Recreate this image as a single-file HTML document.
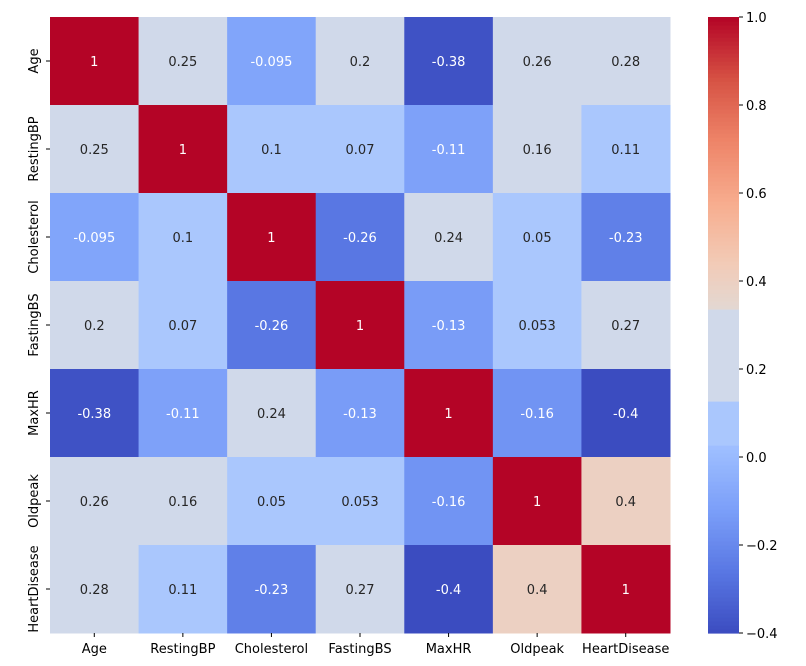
<!DOCTYPE html>
<html><head><meta charset="utf-8"><style>
body{margin:0;background:#fff;font-family:"DejaVu Sans","Liberation Sans",sans-serif}
</style></head><body>
<svg id="chart" width="806" height="662" xmlns="http://www.w3.org/2000/svg" font-family="DejaVu Sans, Liberation Sans, sans-serif" font-size="13"></svg>
<script>
const labels=["Age","RestingBP","Cholesterol","FastingBS","MaxHR","Oldpeak","HeartDisease"];
const row0=[1,0.25,-0.095,0.2,-0.38,0.26,0.28];
const row1=[0.25,1,0.1,0.07,-0.11,0.16,0.11];
const row2=[-0.095,0.1,1,-0.26,0.24,0.05,-0.23];
const row3=[0.2,0.07,-0.26,1,-0.13,0.053,0.27];
const row4=[-0.38,-0.11,0.24,-0.13,1,-0.16,-0.4];
const row5=[0.26,0.16,0.05,0.053,-0.16,1,0.4];
const row6=[0.28,0.11,-0.23,0.27,-0.4,0.4,1];
const matrix=[row0,row1,row2,row3,row4,row5,row6];
const cbTicks=[-0.4,-0.2,0.0,0.2,0.4,0.6,0.8,1.0];
const vmin=-0.4,vmax=1.0;
const X0=50,X1=670,Y0=17,Y1=633,CBX=708,CBW=31;
const stops=["#3b4cc0","#5977e3","#7b9ff9","#9ebeff","#c0d4f5","#dddcdc","#f2cbb7","#f7ac8e","#ee8468","#d65244","#b40426"].map(h=>[1,3,5].map(i=>parseInt(h.substr(i,2),16)));
function hex(h){return [1,3,5].map(i=>parseInt(h.substr(i,2),16));}
function cmap(v){
 if(v>=0.13&&v<=0.34) return hex("#d0d9ea");
 if(v>=0.03&&v<0.13) return hex("#aac7fd");
 let t=Math.max(0,Math.min(1,(v-vmin)/(vmax-vmin)))*10;let i=Math.min(9,Math.floor(t)),f=t-i;return stops[i].map((c,k)=>Math.round(c+(stops[i+1][k]-c)*f));}
function lum(c){const l=c.map(x=>{x/=255;return x<=0.03928?x/12.92:Math.pow((x+0.055)/1.055,2.4)});return 0.2126*l[0]+0.7152*l[1]+0.0722*l[2];}
const n=labels.length,cw=(X1-X0)/n,ch=(Y1-Y0)/n;
const xS=i=>X0+i*cw,yS=j=>Y0+j*ch;
const yCb=v=>Y1-(v-vmin)/(vmax-vmin)*(Y1-Y0);
const svg=document.getElementById('chart');const NS="http://www.w3.org/2000/svg";
function el(t,a,p){const e=document.createElementNS(NS,t);for(const k in a)e.setAttribute(k,a[k]);(p||svg).appendChild(e);return e;}
matrix.forEach((row,j)=>row.forEach((v,i)=>{const c=cmap(v);
const r=el('rect',{x:xS(i),y:yS(j),width:cw+0.5,height:ch+0.5,fill:`rgb(${c})`});


const t=el('text',{x:xS(i)+cw/2,y:yS(j)+ch/2+5,'text-anchor':'middle',fill:lum(c)>0.408?'#262626':'#ffffff'});
t.textContent=String(v);


}));
labels.forEach((l,i)=>{
el('line',{x1:xS(i)+cw/2,x2:xS(i)+cw/2,y1:Y1,y2:Y1+4,stroke:'#000'});
const t=el('text',{x:xS(i)+cw/2,y:Y1+20,'text-anchor':'middle',fill:'#000'});t.textContent=l;


const yc=yS(i)+ch/2;
el('line',{x1:X0-4,x2:X0,y1:yc,y2:yc,stroke:'#000'});
const u=el('text',{x:0,y:0,'text-anchor':'middle',fill:'#000',transform:`translate(${X0-12},${yc}) rotate(-90)`});u.textContent=l;


});
const cbg=el('g',{});


const steps=154;
for(let k=0;k<steps;k++){const v=vmin+(k+0.5)/steps*(vmax-vmin);const c=cmap(v);
const y2=yCb(vmin+k/steps*(vmax-vmin)),y1=yCb(vmin+(k+1)/steps*(vmax-vmin));
el('rect',{x:CBX,y:y1,width:CBW,height:y2-y1+0.6,fill:`rgb(${c})`},cbg);}
cbTicks.forEach(v=>{const y=yCb(v);
el('line',{x1:CBX+CBW,x2:CBX+CBW+4,y1:y,y2:y,stroke:'#000'});
const t=el('text',{x:CBX+CBW+7,y:y+5,fill:'#000'});t.textContent=(v<0?'\u2212':'')+Math.abs(v).toFixed(1);


});
</script>
</body></html>
